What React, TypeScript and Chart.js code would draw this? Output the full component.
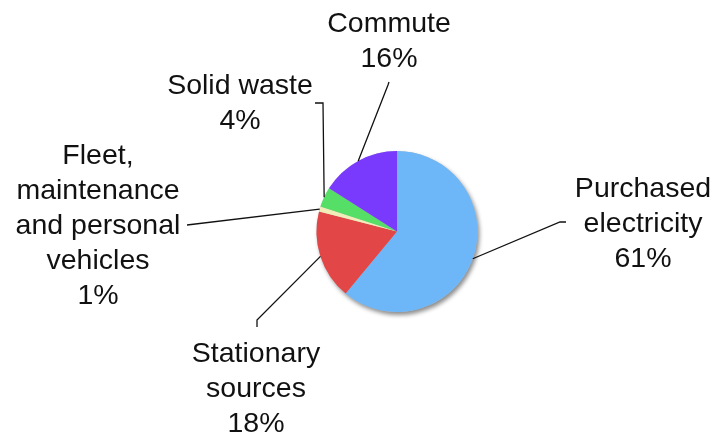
import React, { useEffect, useRef } from "react";
import { Chart, registerables } from "chart.js";

Chart.register(...registerables);

const categories = [
  "Purchased electricity",
  "Stationary sources",
  "Fleet, maintenance and personal vehicles",
  "Solid waste",
  "Commute",
];
const values = [61, 18, 1, 4, 16];
const labelLines = [
  ["Purchased", "electricity", "61%"],
  ["Stationary", "sources", "18%"],
  ["Fleet,", "maintenance", "and personal", "vehicles", "1%"],
  ["Solid waste", "4%"],
  ["Commute", "16%"],
];
const colors = ["#6DB7F9", "#E24646", "#F2EDB8", "#55DF66", "#7A3AFE"];

// label layout: text centre x, first baseline y, leader-line waypoints
const layouts = [
  { x: 643, y: 197, path: [[560, 222], [566, 222]] },
  { x: 256, y: 362, path: [[257, 320], [257, 327]] },
  { x: 98, y: 164, path: [[187, 225]] },
  { x: 240, y: 94, path: [[323, 103], [315, 103]] },
  { x: 389, y: 32, path: [[388, 85], [389, 82]] },
];
const LINE_H = 35;

const shadowPlugin = {
  id: "pieShadow",
  beforeDatasetsDraw(chart: any) {
    const arc = chart.getDatasetMeta(0).data[0];
    if (!arc) return;
    const { x, y, outerRadius } = arc.getProps(["x", "y", "outerRadius"], true);
    const ctx = chart.ctx;
    ctx.save();
    ctx.shadowColor = "rgba(0,0,0,0.45)";
    ctx.shadowBlur = 4;
    ctx.shadowOffsetX = 2;
    ctx.shadowOffsetY = 3;
    ctx.fillStyle = "#bbbbbb";
    ctx.beginPath();
    ctx.arc(x, y, outerRadius, 0, Math.PI * 2);
    ctx.fill();
    ctx.restore();
  },
};

const labelPlugin = {
  id: "pieLabels",
  afterDatasetsDraw(chart: any) {
    const ctx = chart.ctx;
    const meta = chart.getDatasetMeta(0);
    ctx.save();
    meta.data.forEach((arc: any, i: number) => {
      const { x, y, startAngle, endAngle, outerRadius } = arc.getProps(
        ["x", "y", "startAngle", "endAngle", "outerRadius"],
        true
      );
      const mid = (startAngle + endAngle) / 2;
      const sx = x + Math.cos(mid) * outerRadius;
      const sy = y + Math.sin(mid) * outerRadius;
      const lay = layouts[i];
      ctx.strokeStyle = "#111";
      ctx.lineWidth = 1.3;
      ctx.beginPath();
      ctx.moveTo(sx, sy);
      lay.path.forEach((p) => ctx.lineTo(p[0], p[1]));
      ctx.stroke();
      ctx.fillStyle = "#111";
      ctx.font = '28.5px "Liberation Sans", Arial, sans-serif';
      ctx.textAlign = "center";
      ctx.textBaseline = "alphabetic";
      labelLines[i].forEach((t, j) => {
        ctx.fillText(t, lay.x, lay.y + j * LINE_H);
      });
    });
    ctx.restore();
  },
};

export default function App() {
  const ref = useRef<HTMLCanvasElement | null>(null);
  useEffect(() => {
    if (!ref.current) return;
    const chart = new Chart(ref.current, {
      type: "pie",
      data: {
        labels: categories,
        datasets: [
          {
            data: values,
            backgroundColor: colors,
            borderWidth: 0,
          },
        ],
      },
      options: {
        animation: false,
        responsive: false,
        maintainAspectRatio: false,
        layout: { padding: { top: 151, bottom: 124, left: 300, right: 220 } },
        plugins: {
          legend: { display: false },
          tooltip: { enabled: false },
        },
      },
      plugins: [shadowPlugin, labelPlugin],
    });
    return () => chart.destroy();
  }, []);
  return (
    <div style={{ position: "fixed", left: 0, top: 0, width: 714, height: 436, background: "#fff" }}>
      <canvas ref={ref} width={714} height={436} style={{ width: 714, height: 436 }} />
    </div>
  );
}
